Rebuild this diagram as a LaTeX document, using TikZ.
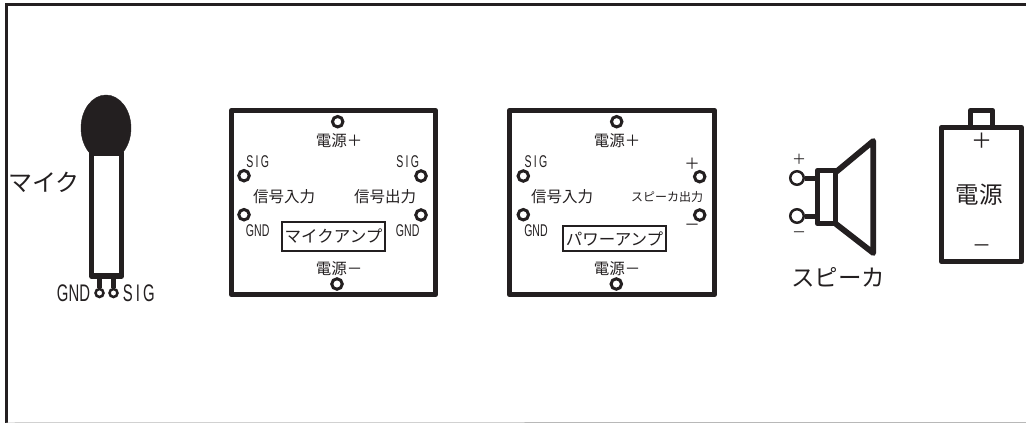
\documentclass[tikz,border=0pt]{standalone}
\usepackage{fontspec}
\setmainfont{Noto Sans CJK JP}
\newfontfamily\narrowfont[FakeStretch=0.62]{Liberation Sans}
\usetikzlibrary{positioning, shapes.geometric}
\definecolor{ink}{HTML}{231F20}
\newcommand{\sigtext}{S\kern.13em I\kern.13em G}
\tikzset{
	panel/.style={draw=ink, line width=5.8pt, line join=round, outer sep=0pt, inner sep=0pt},
	namebox/.style={draw=ink, line width=2.7pt, inner sep=0pt, text=ink, font=\fontsize{16.5}{18}\selectfont},
	lead/.style={draw=ink, line width=5pt},
	hole/.style={circle, draw=ink, fill=white, line width=3pt, minimum size=10.5pt, inner sep=0pt},
	caption/.style={inner sep=0pt, text=ink, font=\fontsize{15.5}{17}\selectfont},
	big caption/.style={inner sep=0pt, text=ink, font=\fontsize{24}{26}\selectfont},
	tag/.style={inner sep=0pt, text=ink, font=\fontsize{17}{18}\selectfont\narrowfont},
	big tag/.style={inner sep=0pt, text=ink, font=\fontsize{24}{26}\selectfont\narrowfont}}

\begin{document}
\begin{tikzpicture}[x=1pt, y=-1pt]
	\useasboundingbox (0,0) rectangle (1026,423);
	
	% outer frame
	\coordinate (f0) at (1026,4.5);
	\coordinate (f1) at (6.5,4.5);
	\coordinate (f2) at (6.5,423);
	\coordinate (f3) at (1026,422.5);
	\draw[draw=ink, line width=3pt] (f0) -- (f1) -- (f2);
	\draw[draw=black!28, line width=1pt] (f2) -- (f3);
	
	% microphone
	\node[draw=ink, fill=ink, ellipse, minimum width=50pt, minimum height=66pt, inner sep=0pt, outer sep=0pt] (head) at (106,128) {};
	\node[panel, fill=white, minimum width=30pt, minimum height=123pt] (body) at (106.5,214.5) {};
	\node[hole, minimum size=8pt, line width=2.5pt] (gnd) at (99.5,293) {};
	\node[hole, minimum size=8pt, line width=2.5pt] (sig) at (113.5,293) {};
	\draw[lead] (body.south -| gnd) -- (gnd);
	\draw[lead] (body.south -| sig) -- (sig);
	\node[big caption] (miclabel) at (44,182) {マイク};
	\node[big tag, left=4pt of gnd] (gndlabel) {GND};
	\node[big tag, right=4pt of sig] (siglabel) {\sigtext};
	
	% mic amp
	\node[panel, minimum width=204pt, minimum height=184pt] (amp1) at (333.5,202.5) {};
	\node[hole] (a1top) at (337.7,121.7) {};
	\node[hole] (a1bot) at (337,284) {};
	\node[hole] (a1sigin) at (244,175.7) {};
	\node[hole] (a1gndin) at (244,214.7) {};
	\node[hole] (a1sigout) at (421,176) {};
	\node[hole] (a1gndout) at (421,215) {};
	\node[caption] (a1plus) at (339,141) {電源＋};
	\node[caption] (a1minus) at (339,269) {電源－};
	\node[caption] (a1in) at (284,197) {信号入力};
	\node[caption] (a1out) at (385,197) {信号出力};
	\node[tag] (a1tag1) at (257.7,161.7) {\sigtext};
	\node[tag] (a1tag2) at (257.7,230.7) {GND};
	\node[tag] (a1tag3) at (407.7,161.7) {\sigtext};
	\node[tag] (a1tag4) at (407.7,230.7) {GND};
	\node[namebox, minimum width=103pt, minimum height=29pt] (a1name) at (333.5,236.5) {マイクアンプ};
	
	% power amp
	\node[panel, minimum width=205pt, minimum height=184pt] (amp2) at (612,202.5) {};
	\node[hole] (a2top) at (616.7,121.7) {};
	\node[hole] (a2bot) at (616.3,284) {};
	\node[hole] (a2sigin) at (523.3,176) {};
	\node[hole] (a2gndin) at (523.3,214.7) {};
	\node[hole] (a2plus) at (699.7,176.7) {};
	\node[hole] (a2minus) at (699.7,215) {};
	\node[caption] (a2p) at (617,141) {電源＋};
	\node[caption] (a2m) at (617,269) {電源－};
	\node[caption] (a2in) at (562,197) {信号入力};
	\node[caption, font=\fontsize{12}{14}\selectfont] (a2out) at (667,197) {スピーカ出力};
	\node[tag] (a2tag1) at (536,161.7) {\sigtext};
	\node[tag] (a2tag2) at (536,230.7) {GND};
	\node[caption] (a2tag3) at (692,164) {＋};
	\node[caption] (a2tag4) at (692,227) {－};
	\node[namebox, minimum width=103pt, minimum height=25pt] (a2name) at (614.5,238.5) {パワーアンプ};
	
	% speaker
	\coordinate (s0) at (836,172);
	\coordinate (s1) at (873.3,141);
	\coordinate (s2) at (873.3,253);
	\coordinate (s3) at (836,224);
	\node[panel, minimum width=18pt, minimum height=53pt] (coil) at (826.5,197) {};
	\node[hole, minimum size=13.5pt, line width=2.5pt] (sp1) at (797,178) {};
	\node[hole, minimum size=13.5pt, line width=2.5pt] (sp2) at (797,216) {};
	\draw[lead] (sp1) -- (sp1 -| coil.west);
	\draw[lead] (sp2) -- (sp2 -| coil.west);
	\draw[panel] (s0) -- (s1) -- (s2) -- (s3);
	\node[caption, font=\fontsize{14}{16}\selectfont] (spplus) at (799,159) {＋};
	\node[caption, font=\fontsize{14}{16}\selectfont] (spminus) at (799,235) {－};
	\node[big caption, font=\fontsize{23.5}{26}\selectfont] (splabel) at (838,277) {スピーカ};
	
	% battery
	\node[panel, minimum width=80pt, minimum height=134pt] (cell) at (981.5,194.5) {};
	\node[panel, minimum width=22pt, minimum height=17pt, anchor=south] (cap) at (cell.north) {};
	\node[big caption, font=\fontsize{21}{24}\selectfont] (cellplus) at (981.5,141) {＋};
	\node[big caption, font=\fontsize{19}{20}\selectfont] (cellminus) at (982,249) {－};
	\node[big caption, font=\fontsize{23.5}{26}\selectfont] (cellname) at (979,195) {電源};
\end{tikzpicture}
\end{document}
